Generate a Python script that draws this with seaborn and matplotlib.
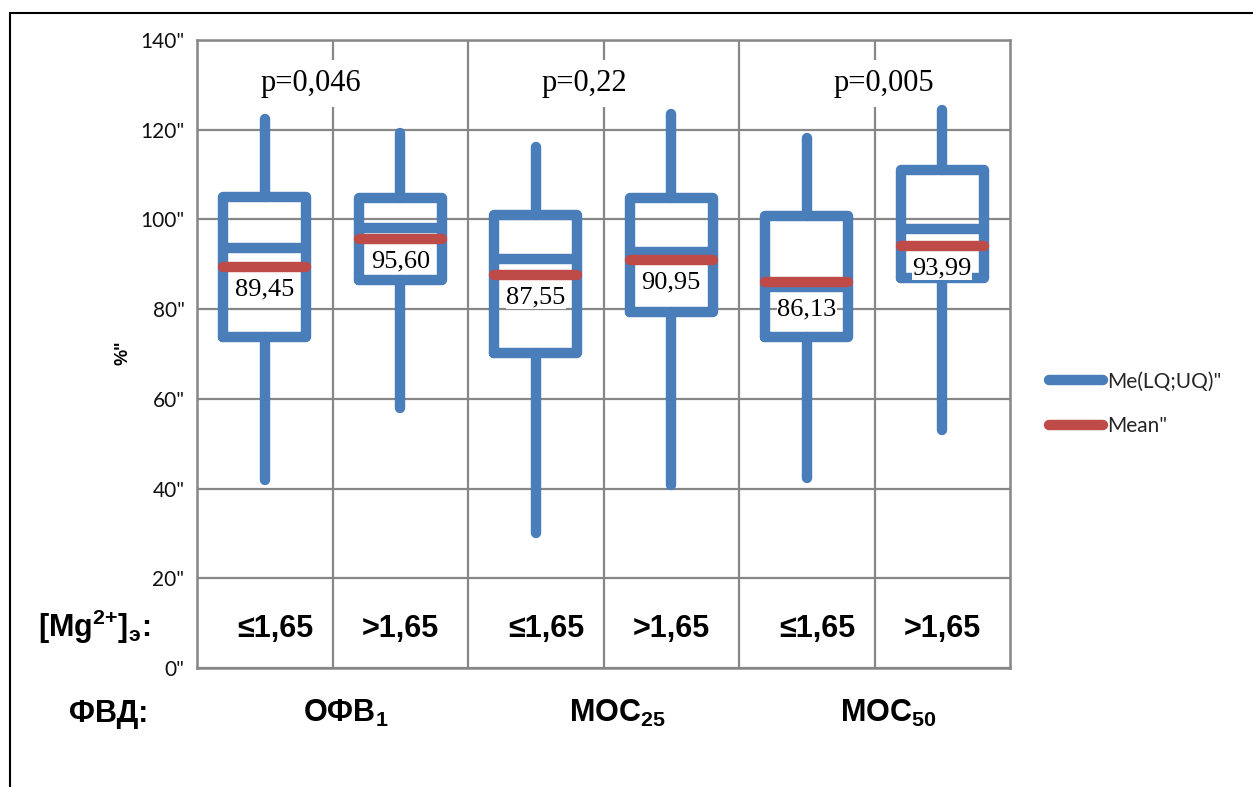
import matplotlib
matplotlib.use("Agg")
import matplotlib.pyplot as plt
from matplotlib.lines import Line2D
import seaborn as sns

# ---- data -------------------------------------------------------------
group_labels = [r"$\mathrm{ОФВ}_{\mathrm{1}}$", r"$\mathrm{МОС}_{\mathrm{25}}$", r"$\mathrm{МОС}_{\mathrm{50}}$"]
mg_labels = ["≤1,65", ">1,65", "≤1,65", ">1,65", "≤1,65", ">1,65"]
p_values = ["p=0,046", "p=0,22", "p=0,005"]

whisker_low = [41.9, 57.9, 30.0, 40.8, 42.4, 53.1]
q1 = [73.9, 86.5, 70.3, 79.4, 73.9, 86.9]
median = [93.6, 98.0, 91.1, 92.8, 85.0, 97.9]
q3 = [104.9, 104.7, 101.0, 104.7, 100.8, 111.0]
whisker_high = [122.5, 119.2, 116.2, 123.6, 118.1, 124.4]
mean = [89.45, 95.60, 87.55, 90.95, 86.13, 93.99]

y_ticks = [0, 20, 40, 60, 80, 100, 120, 140]
legend_labels = ['Me(LQ;UQ)"', 'Mean"']

# ---- style ------------------------------------------------------------
sns.set_theme(style="white")
plt.rcParams["font.family"] = ["Lato", "DejaVu Sans"]
plt.rcParams["mathtext.fontset"] = "custom"
plt.rcParams["mathtext.rm"] = "Liberation Sans:bold"
plt.rcParams["mathtext.it"] = "Liberation Sans:bold"
plt.rcParams["mathtext.bf"] = "Liberation Sans:bold"

palette = sns.color_palette(["#4A7EBB", "#BE4B48"])
BLUE, RED = palette[0], palette[1]
GRID = "#878787"
LW = 7.5
BOLD = ["Liberation Sans", "DejaVu Sans"]
SERIF = ["Liberation Serif", "DejaVu Serif"]

W, H = 1253, 787
fig = plt.figure(figsize=(W / 100, H / 100), dpi=100)
ax = fig.add_axes([197 / W, 1 - 668 / H, (1010 - 197) / W, (668 - 40) / H])

stats = [
    dict(whislo=lo, q1=a, med=m, q3=b, whishi=hi, mean=mu, fliers=[])
    for lo, a, m, b, hi, mu in zip(whisker_low, q1, median, q3, whisker_high, mean)
]
positions = list(range(len(stats)))
ax.bxp(
    stats,
    positions=positions,
    widths=0.613,
    showcaps=False,
    showfliers=False,
    showmeans=True,
    meanline=True,
    manage_ticks=False,
    boxprops=dict(color=BLUE, linewidth=LW, solid_joinstyle="round"),
    whiskerprops=dict(color=BLUE, linewidth=LW, solid_capstyle="round"),
    medianprops=dict(color=BLUE, linewidth=LW, solid_capstyle="butt"),
    meanprops=dict(color=RED, linewidth=LW, linestyle="-", solid_capstyle="round"),
)

# axes, grid
ax.set_xlim(-0.5, len(stats) - 0.5)
ax.set_ylim(0, 140)
ax.set_yticks(y_ticks)
ax.set_yticklabels([f'{v}"' for v in y_ticks], fontsize=15, color="#111111")
ax.set_xticks([p + 0.5 for p in positions[:-1]])
ax.set_xticklabels([])
ax.tick_params(length=0)
ax.tick_params(axis="y", pad=9)
ax.set_axisbelow(True)
ax.grid(True, color=GRID, linewidth=1.6)
for s in ax.spines.values():
    s.set_color(GRID)
    s.set_linewidth(1.8)

# value labels of the means
for x, mu, me in zip(positions, mean, median):
    ax.text(x, min(mu, me) - 5.0, f"{mu:.2f}".replace(".", ","),
            ha="center", va="center", fontsize=19, family=SERIF, color="black",
            bbox=dict(boxstyle="square,pad=0.02", facecolor="white", edgecolor="none"),
            zorder=6)

# p-values above the groups (white patch hides the grid, boxes stay on top)
for x, p in zip([0.34, 2.36, 4.57], p_values):
    ax.text(x, 128.6, p, ha="center", va="baseline", fontsize=22, family=SERIF,
            color="black",
            bbox=dict(boxstyle="square,pad=0.3", facecolor="white", edgecolor="none"),
            zorder=1.5)

# Mg categories inside the plot area
for x, lab in zip(positions, mg_labels):
    ax.text(x + (0.08 if lab.startswith("≤") else 0), 6.9, lab, ha="center",
            va="baseline", fontsize=22, fontweight="bold", family=BOLD, color="black")

# group names under the axis
for g, lab in enumerate(group_labels):
    ax.text(2 * g + 0.6, -12.0, lab, ha="center", va="baseline", fontsize=22,
            color="black", clip_on=False)

fig.text(94 / W, 1 - 637 / H, r"$\mathrm{[Mg}^{\mathrm{2{+}}}\mathrm{]}_{\mathrm{э}}\!\mathrm{:}$",
         ha="center", va="baseline", fontsize=22, color="black")
fig.text(109 / W, 1 - 722 / H, "ФВД:", ha="center", va="baseline", fontsize=22,
         fontweight="bold", family=BOLD, color="black")
fig.text(123 / W, 1 - 353 / H, '%"', rotation=90, ha="center", va="center",
         fontsize=13, fontweight="bold", family=BOLD, color="black")

# legend
handles = [
    Line2D([], [], color=BLUE, linewidth=LW, solid_capstyle="round"),
    Line2D([], [], color=RED, linewidth=LW, solid_capstyle="round"),
]
fig.legend(handles, legend_labels, loc="center left",
           bbox_to_anchor=(1030 / W, 1 - 404 / H), frameon=False,
           fontsize=15, handlelength=2.6, handletextpad=0.2, labelspacing=1.2)

# outer frame
x0, y0 = 10 / W, 1 - 12.5 / H
fig.add_artist(Line2D([x0, x0], [0, y0], transform=fig.transFigure, color="black", linewidth=1.5))
fig.add_artist(Line2D([x0, 1], [y0, y0], transform=fig.transFigure, color="black", linewidth=1.5))

fig.savefig("out.png", dpi=100, facecolor="white")
